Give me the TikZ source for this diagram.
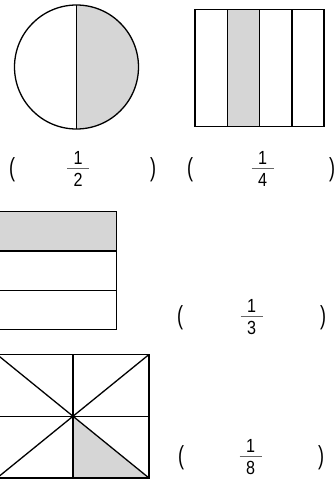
\documentclass[tikz,border=0pt]{standalone}
\usepackage{fontspec}
\setmainfont{Liberation Sans}
\begin{document}
\begin{tikzpicture}[x=1pt,y=-1pt,
  fig/.style={line width=1.3pt,draw=black},
  shade/.style={fill=black!16},
  digit/.style={inner sep=0pt,font=\fontsize{19}{19}\selectfont},
  paren/.style={inner sep=0pt,font=\fontsize{18}{18}\selectfont},
  fbar/.style={line width=0.8pt,draw=black!60}]
\useasboundingbox (0,0) rectangle (334,482);
% circle halves
\coordinate (cc) at (76.5,67);
\fill[shade] (76.5,5) arc[start angle=-90,end angle=90,radius=62] -- cycle;
\draw[fig] (cc) circle[radius=62];
\coordinate (ct) at (76.5,5);
\coordinate (cb) at (76.5,129);
\draw[fig] (ct) -- (cb);
% square quarters
\coordinate (sa) at (195,9.5);
\coordinate (sb) at (324,126.5);
\fill[shade] (227.7,9.5) rectangle (259.3,126.5);
\draw[fig] (sa) rectangle (sb);
\foreach \x in {227.7,259.3,292} \draw[fig] (\x,9.5) -- (\x,126.5);
% thirds rectangle
\fill[shade] (-2,211.7) rectangle (116.3,251);
\draw[fig] (-2,211.7) rectangle (116.3,329.5);
\foreach \y in {251,290.2} \draw[fig] (-2,\y) -- (116.3,\y);
% eighths rectangle
\coordinate (ec) at (73,416.5);
\fill[shade] (ec) -- (149,478) -- (73,478) -- cycle;
\draw[fig] (-3,354.5) rectangle (149,478);
\draw[fig] (-3,354.5) -- (149,478);
\draw[fig] (-3,478) -- (149,354.5);
\draw[fig] (73,354.5) -- (73,478);
\draw[fig] (-3,416.5) -- (149,416.5);
% labels
\newcommand{\myfr}[4]{% x, y(bar), num, den
  \node[digit] (n#3#4) at (#1,#2-11) {\scalebox{0.85}[1]{#3}};
  \node[digit] (d#3#4) at (#1,#2+11.5) {\scalebox{0.85}[1]{#4}};
  \draw[fbar] (#1-11,#2) -- (#1+11,#2);}
\newcommand{\lp}{\scalebox{1}[1.45]{(}}
\newcommand{\rp}{\scalebox{1}[1.45]{)}}
\myfr{78}{168.7}{1}{2}
\myfr{262.7}{168.7}{1}{4}
\myfr{251.5}{316.5}{1}{3}
\myfr{250.5}{456.7}{1}{8}
\node[paren] (pa1) at (12,170) {\lp};
\node[paren] (pb1) at (153,170) {\rp};
\node[paren] (pa2) at (190,170) {\lp};
\node[paren] (pb2) at (332,170) {\rp};
\node[paren] (pa3) at (180,318) {\lp};
\node[paren] (pb3) at (323,318) {\rp};
\node[paren] (pa4) at (181,458) {\lp};
\node[paren] (pb4) at (321,458) {\rp};
\end{tikzpicture}
\end{document}
